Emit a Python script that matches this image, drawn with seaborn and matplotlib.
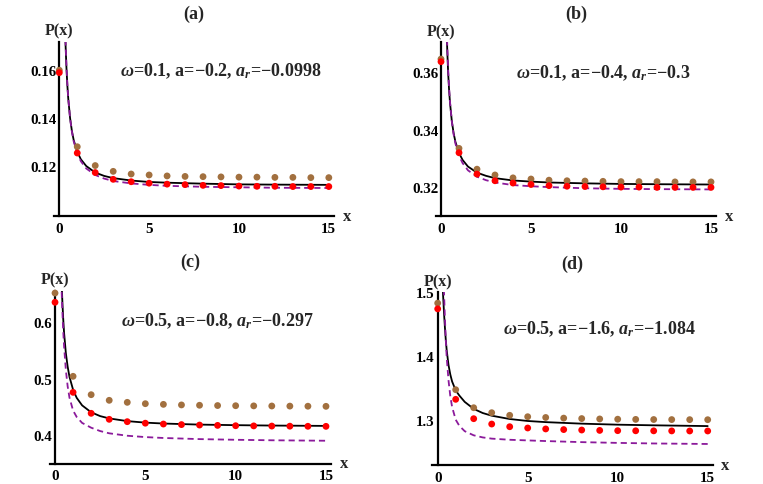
import matplotlib
matplotlib.use("Agg")
import matplotlib.pyplot as plt
import seaborn as sns

# sample positions along the curves (shared by all panels)
x_curve = [0.28, 0.3, 0.35, 0.4, 0.45, 0.5, 0.6, 0.7, 0.8, 1.0, 1.2, 1.5,
           2, 2.5, 3, 4, 5, 6, 8, 10, 12, 15]
x_dots = list(range(16))

# panel (a)
a_black = [0.1906, 0.1835, 0.1701, 0.1605, 0.1534, 0.1479, 0.1400, 0.1347, 0.1309, 0.1260, 0.1229,
           0.1201, 0.1174, 0.1160, 0.1151, 0.1141, 0.1135, 0.1132, 0.1128, 0.1125, 0.1124, 0.1123]
a_purple = [0.1926, 0.1853, 0.1713, 0.1613, 0.1538, 0.1481, 0.1399, 0.1344, 0.1304, 0.1253, 0.1221,
            0.1191, 0.1164, 0.1149, 0.1139, 0.1129, 0.1123, 0.1119, 0.1115, 0.1113, 0.1111, 0.1110]
a_red = [0.1588, 0.1255, 0.1174, 0.1146, 0.1136, 0.1130, 0.1126, 0.1124, 0.1121, 0.1120,
         0.1118, 0.1117, 0.1117, 0.1116, 0.1116, 0.1116]
a_brown = [0.1598, 0.1281, 0.1203, 0.1179, 0.1168, 0.1164, 0.1160, 0.1158, 0.1157, 0.1156,
           0.1155, 0.1155, 0.1154, 0.1154, 0.1153, 0.1153]

# panel (b)
b_black = [0.3832, 0.3776, 0.3670, 0.3593, 0.3536, 0.3493, 0.3430, 0.3388, 0.3358, 0.3319, 0.3295,
           0.3272, 0.3251, 0.3240, 0.3232, 0.3224, 0.3220, 0.3217, 0.3214, 0.3212, 0.3211, 0.3210]
b_purple = [0.3860, 0.3800, 0.3686, 0.3604, 0.3543, 0.3496, 0.3429, 0.3384, 0.3352, 0.3310, 0.3284,
            0.3259, 0.3237, 0.3225, 0.3217, 0.3208, 0.3204, 0.3201, 0.3197, 0.3195, 0.3194, 0.3193]
b_red = [0.3635, 0.3320, 0.3246, 0.3223, 0.3215, 0.3210, 0.3206, 0.3204, 0.3203, 0.3202,
         0.3201, 0.3201, 0.3200, 0.3200, 0.3200, 0.3200]
b_brown = [0.3644, 0.3335, 0.3263, 0.3243, 0.3233, 0.3229, 0.3225, 0.3223, 0.3222, 0.3221,
           0.3220, 0.3220, 0.3220, 0.3219, 0.3219, 0.3219]

# panel (c)
c_black = [0.782, 0.749, 0.687, 0.642, 0.608, 0.582, 0.545, 0.521, 0.503, 0.480, 0.4656,
           0.4522, 0.4399, 0.4331, 0.4290, 0.4242, 0.4215, 0.4199, 0.4180, 0.4170, 0.4163, 0.4157]
c_purple = [0.780, 0.740, 0.672, 0.625, 0.587, 0.558, 0.515, 0.486, 0.466, 0.443, 0.4315,
            0.4210, 0.4125, 0.4065, 0.4025, 0.3982, 0.3958, 0.3942, 0.3922, 0.3910, 0.3901, 0.3893]
c_red = [0.6356, 0.4754, 0.4381, 0.4274, 0.4232, 0.4205, 0.4190, 0.4180, 0.4172, 0.4166,
         0.4160, 0.4157, 0.4154, 0.4152, 0.4150, 0.4149]
c_brown = [0.652, 0.5039, 0.4712, 0.4612, 0.4576, 0.4552, 0.4540, 0.4530, 0.4524, 0.4519,
           0.4516, 0.4513, 0.4511, 0.4509, 0.4507, 0.4505]

# panel (d)
d_black = [1.510, 1.495, 1.468, 1.445, 1.425, 1.409, 1.386, 1.371, 1.360, 1.346, 1.338,
           1.328, 1.317, 1.3105, 1.3063, 1.3011, 1.2980, 1.2962, 1.2938, 1.2922, 1.2912, 1.2900]
d_purple = [1.600, 1.560, 1.500, 1.460, 1.425, 1.398, 1.362, 1.337, 1.320, 1.300, 1.2905,
            1.2820, 1.2755, 1.2722, 1.2703, 1.2685, 1.2675, 1.2665, 1.2648, 1.2636, 1.2627, 1.2619]
d_red = [1.474, 1.332, 1.3016, 1.2932, 1.2890, 1.2870, 1.2855, 1.2845, 1.2838, 1.2832,
         1.2828, 1.2826, 1.2825, 1.2824, 1.2823, 1.2823]
d_brown = [1.483, 1.3471, 1.3188, 1.3110, 1.3069, 1.3047, 1.3035, 1.3025, 1.3018, 1.3012,
           1.3008, 1.3005, 1.3003, 1.3002, 1.3001, 1.3000]

titles = ["(a)", "(b)", "(c)", "(d)"]
labels = [r"$\omega$=0.1, a=−0.2, $a_r$=−0.0998",
          r"$\omega$=0.1, a=−0.4, $a_r$=−0.3",
          r"$\omega$=0.5, a=−0.8, $a_r$=−0.297",
          r"$\omega$=0.5, a=−1.6, $a_r$=−1.084"]
label_pos = [(9, 0.160), (9, 0.3597), (9, 0.603), (9, 1.443)]
y_ticks = [[0.12, 0.14, 0.16], [0.32, 0.34, 0.36], [0.4, 0.5, 0.6], [1.3, 1.4, 1.5]]
y_ticklabels = [["0.12", "0.14", "0.16"], ["0.32", "0.34", "0.36"],
                ["0.4", "0.5", "0.6"], ["1.3", "1.4", "1.5"]]
y_lims = [(0.0994, 0.1715), (0.3100, 0.3702), (0.3488, 0.6562), (1.2289, 1.5)]
x_ticks = [0, 5, 10, 15]

series = [(a_black, a_purple, a_red, a_brown),
          (b_black, b_purple, b_red, b_brown),
          (c_black, c_purple, c_red, c_brown),
          (d_black, d_purple, d_red, d_brown)]

# axes boxes in pixels: left, right, top, bottom
boxes = [(53.9, 334.2, 43.0, 217.0), (435.6, 716.4, 43.3, 217.3),
         (49.6, 331.4, 291.7, 464.5), (432.3, 713.1, 293.3, 466.0)]

W, H = 763, 485

sns.set_style("white")
plt.rcParams["font.family"] = ["Liberation Serif", "DejaVu Serif"]
plt.rcParams["font.weight"] = "bold"
plt.rcParams["mathtext.fontset"] = "custom"
plt.rcParams["mathtext.rm"] = "Liberation Serif:bold"
plt.rcParams["mathtext.it"] = "Liberation Serif:italic:bold"
plt.rcParams["mathtext.bf"] = "Liberation Serif:bold"

fig = plt.figure(figsize=(W / 100, H / 100), dpi=100)

purple = "#8b1a9b"
brown = "#a2703f"

for i in range(4):
    l, r, t, b = boxes[i]
    ax = fig.add_axes([l / W, 1 - b / H, (r - l) / W, (b - t) / H])
    black, purp, red, brn = series[i]

    sns.lineplot(x=x_curve, y=black, ax=ax, color="black", lw=1.3,
                 estimator=None, sort=False, zorder=2)
    sns.lineplot(x=x_curve, y=purp, ax=ax, color=purple, lw=1.3,
                 linestyle=(0, (3.4, 2.2)), estimator=None, sort=False, zorder=3)
    sns.scatterplot(x=x_dots, y=brn, ax=ax, color=brown, s=24, edgecolor="none",
                    clip_on=False, zorder=4)
    sns.scatterplot(x=x_dots, y=red, ax=ax, color="red", s=24, edgecolor="none",
                    clip_on=False, zorder=5)

    ax.set_xlim(-0.3, 15.3)
    ax.set_ylim(*y_lims[i])
    ax.set_xticks(x_ticks)
    ax.set_xticklabels([str(v) for v in x_ticks])
    ax.set_yticks(y_ticks[i])
    ax.set_yticklabels(y_ticklabels[i])
    ax.set_xlabel("")
    ax.set_ylabel("")

    for s in ["top", "right"]:
        ax.spines[s].set_visible(False)
    ax.spines["left"].set_position(("data", 0))
    for s in ["left", "bottom"]:
        ax.spines[s].set_linewidth(1.6)
        ax.spines[s].set_color("black")
    ax.tick_params(direction="in", length=3.5, width=1.2, color="black",
                   labelsize=10.8, labelcolor="black")
    ax.tick_params(axis="x", pad=4)
    ax.tick_params(axis="y", pad=2)
    for lab in ax.get_xticklabels() + ax.get_yticklabels():
        lab.set_fontweight("bold")

    ax.annotate("P(x)", xy=(0, 1), xycoords=("data", "axes fraction"),
                xytext=(0, 8), textcoords="offset points", ha="center", va="center",
                fontsize=11.5, fontweight="bold")
    ax.annotate("x", xy=(1, 0), xycoords="axes fraction",
                xytext=(9, 0), textcoords="offset points", ha="center", va="center",
                fontsize=12, fontweight="bold")
    ax.text(label_pos[i][0], label_pos[i][1], labels[i], ha="center", va="center",
            fontsize=13, fontweight="bold")
    ax.text(0.5, 1 + 29 / (b - t), titles[i], transform=ax.transAxes,
            ha="center", va="center", fontsize=13, fontweight="bold")

fig.savefig("out.png", dpi=100)
